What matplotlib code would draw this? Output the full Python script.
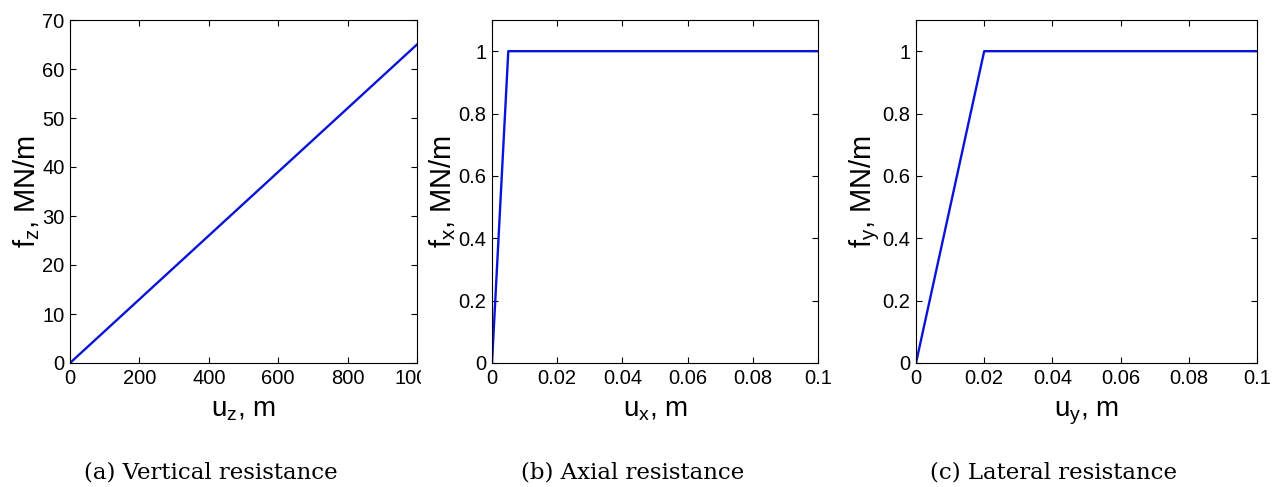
import numpy as np
import matplotlib.pyplot as plt
from matplotlib.transforms import Bbox, TransformedBbox

# datos de las curvas de resistencia
uz = [0, 1000]
fz = [0, 65]
ux = [0, 0.005, 0.1]
fx = [0, 1, 1]
uy = [0, 0.02, 0.1]
fy = [0, 1, 1]

xticks_a = [0, 200, 400, 600, 800, 1000]
yticks_a = [0, 10, 20, 30, 40, 50, 60, 70]
xticks_bc = [0, 0.02, 0.04, 0.06, 0.08, 0.1]
yticks_bc = [0, 0.2, 0.4, 0.6, 0.8, 1]

captions = ['(a) Vertical resistance', '(b) Axial resistance', '(c) Lateral resistance']

sans = 'Liberation Sans'
plt.rcParams['font.family'] = [sans, 'DejaVu Sans']
plt.rcParams['mathtext.fontset'] = 'custom'
plt.rcParams['mathtext.rm'] = sans

W, H = 1274, 487
fig = plt.figure(figsize=(W/100, H/100), dpi=100)

def caja(l, r, t, b):
    return [l/W, 1-b/H, (r-l)/W, (b-t)/H]

ax1 = fig.add_axes(caja(70, 417, 20, 363))
ax2 = fig.add_axes(caja(492, 818, 20, 363))
ax3 = fig.add_axes(caja(916, 1257, 20, 363))

azul = '#0a14d8'
ax1.plot(uz, fz, color=azul, lw=1.7)
ax2.plot(ux, fx, color=azul, lw=1.7)
ax3.plot(uy, fy, color=azul, lw=1.7)

ax1.set_xlim(0, 1000); ax1.set_ylim(0, 70)
ax1.set_xticks(xticks_a); ax1.set_yticks(yticks_a)
for ax in (ax2, ax3):
    ax.set_xlim(0, 0.1); ax.set_ylim(0, 1.1)
    ax.set_xticks(xticks_bc); ax.set_yticks(yticks_bc)
    ax.set_xticklabels(['0', '0.02', '0.04', '0.06', '0.08', '0.1'])
    ax.set_yticklabels(['0', '0.2', '0.4', '0.6', '0.8', '1'])

ejes = [(ax1, 'z'), (ax2, 'x'), (ax3, 'y')]
for ax, s in ejes:
    ax.tick_params(direction='in', top=True, right=True, length=4, width=0.8,
                   labelsize=14.5, pad=4)
    for sp in ax.spines.values():
        sp.set_linewidth(0.8)
    ax.set_xlabel(r'u$_{\mathregular{%s}}$, m' % s, fontsize=20, va='baseline')
    ax.xaxis.set_label_coords(0.5, -0.155)
    ax.set_ylabel(r'f$_{\mathregular{%s}}$, MN/m' % s, fontsize=21, labelpad=0)

# la etiqueta 1000 aparece recortada en el original
fig.canvas.draw()
lab = ax1.get_xticklabels()[-1]
lab.set_clip_on(True)
lab.set_clip_box(TransformedBbox(Bbox([[0, 0], [421/W, 1]]), fig.transFigure))

xs = [211, 633, 1053]
for x, c in zip(xs, captions):
    fig.text(x/W, 1-472/H, c, ha='center', va='center', fontsize=16.5,
             family=['DejaVu Serif'])

fig.savefig('out.png', dpi=100)
